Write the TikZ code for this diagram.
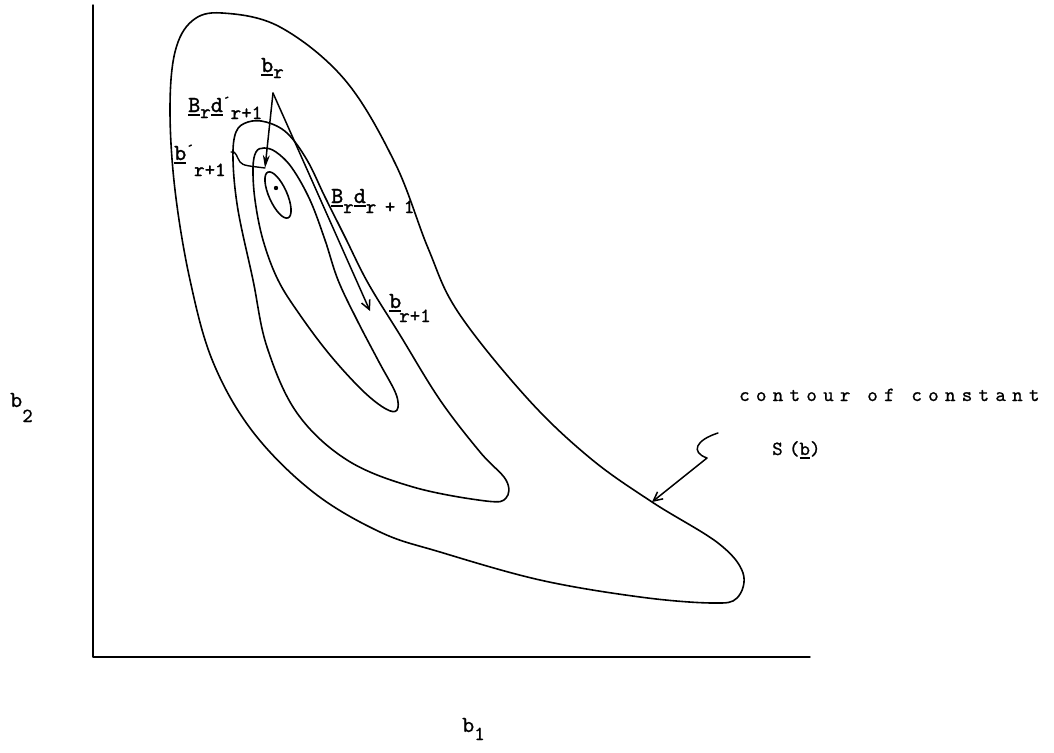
\documentclass[tikz,border=0pt]{standalone}
\usepackage{fontspec}
\usetikzlibrary{arrows.meta}
\newfontfamily\lbfont[FakeBold=1.4]{lmmono10-regular.otf}
\newfontfamily\axfont[FakeBold=0.7]{lmmono10-regular.otf}
\newfontfamily\twfont[LetterSpace=31.5,FakeBold=0.9]{lmmono10-regular.otf}
\newcommand{\vu}[1]{\vtop{\hbox{#1}\kern2pt\hrule height 1.6pt}}
\newcommand{\lsub}[2][6pt]{\raisebox{-#1}{\fontsize{20}{20}\selectfont #2}}
\newcommand{\prm}{\raisebox{6pt}{\fontsize{15}{15}\selectfont\char"00B4}}
\begin{document}
\begin{tikzpicture}[x=1pt,y=-1pt,line cap=round,line join=round,
  contour/.style={draw=black,line width=1.6pt},
  axisline/.style={line width=1.4pt},
  lbl/.style={anchor=base west,inner sep=0pt,font=\lbfont\fontsize{23}{23}\selectfont},
  axlbl/.style={anchor=base west,inner sep=0pt,font=\axfont\fontsize{23}{23}\selectfont},
  note/.style={anchor=base west,inner sep=0pt,font=\twfont\fontsize{20}{20}\selectfont},
  barb/.style={line width=1.5pt,-{Straight Barb[length=9pt,width=9pt]}},
  stealthy/.style={line width=1.5pt,-{Stealth[length=13pt,width=7pt]}}]
\useasboundingbox (0,0) rectangle (1054,752);
% axes
\coordinate (ytop) at (93,5);
\coordinate (O) at (93,657);
\coordinate (xend) at (810,657);
\draw[axisline] (ytop) -- (O) -- (xend);
\node[axlbl] (b2) at (10,407) {b\lsub[15pt]{2}};
\node[axlbl] (b1) at (462,732) {b\lsub[8pt]{1}};
% outer contour
\draw[contour] plot[smooth cycle,tension=0.6] coordinates {
 (222,13) (280,27) (345,80) (395,163) (428,248) (458,312) (527,398) (590,458)
 (652,502) (718,543) (743,573) (737,598) (712,603) (640,597) (540,580) (440,552)
 (380,532) (313,492) (253,432) (213,362) (190,280) (175,190) (170,110) (175,52) (192,21)};
% middle contour
\draw[contour] plot[smooth cycle,tension=0.6] coordinates {
 (236,132) (248,122) (266,122) (287,133) (307,160) (325,197) (345,237) (368,283)
 (400,335) (440,400) (480,452) (506,480) (506,498) (486,501) (413,487) (347,460)
 (297,413) (267,347) (253,280) (238,210) (233,160)};
% inner contour
\draw[contour] plot[smooth cycle,tension=0.6] coordinates {
 (256,152) (264,148) (276,152) (292,168) (310,200) (325,240) (338,280) (357,320)
 (379,362) (396,394) (397,410) (386,409) (363,391) (330,355) (300,315) (278,280)
 (263,240) (255,200) (253,168)};
% small ellipse and minimum
\draw[contour,rotate around={-66:(278,195)}] (278,195) ellipse [x radius=25,y radius=9];
\fill (276,188) circle (2.2);
% iteration arrows
\coordinate (br) at (273,93);
\coordinate (bp) at (265,168);
\coordinate (bn) at (370,311);
\draw[stealthy] (br) -- (bp);
\draw[barb] (br) -- (bn);
% leader from b'_{r+1}
\coordinate (lp) at (231,152);
\draw[line width=1.4pt] (lp) .. controls (236,150) and (237,158) .. (240,162)
  .. controls (243,166) and (250,166) .. (bp);
% labels
\node[lbl] (lbr) at (261,72) {\vu{b}\lsub[6pt]{r}};
\node[lbl] (lbdp) at (188,112) {\vu{B}\lsub[6pt]{r}\vu{d}\prm\lsub[7pt]{r+1}};
\node[lbl] (lbp) at (174,160) {\vu{b}\prm\lsub[16pt]{r+1}};
\node[lbl] (lbd) at (331,203) {\vu{B}\lsub[10pt]{r}\vu{d}\lsub[10pt]{r\kern-2pt\ +\kern-2pt\ 1}};
\node[lbl] (lbn) at (389,308) {\vu{b}\kern-2pt\lsub[14pt]{r+1}};
% contour annotation
\node[note] (c1) at (739,401) {contour of constant};
\node[note] (c2) at (772,455) {S(\vu{b})};
\coordinate (s1) at (718,433);
\coordinate (s2) at (707,458);
\coordinate (ctip) at (652,502);
\draw[barb] (s1) .. controls (696,440) and (690,452) .. (s2) -- (ctip);
\end{tikzpicture}
\end{document}
